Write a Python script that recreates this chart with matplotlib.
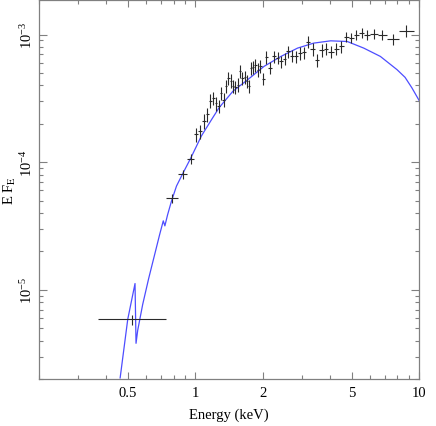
import numpy as np
import matplotlib
matplotlib.use("Agg")
import matplotlib.pyplot as plt
from matplotlib.ticker import FixedLocator, NullFormatter, LogLocator, FixedFormatter

plt.rcParams.update({
    'font.family': 'Liberation Serif',
    'mathtext.fontset': 'stix',
    'font.size': 10.5,
})

# spectral bins (keV): edges of each channel group
bin_edges = [0.3679, 0.7356, 0.8378, 0.9186, 0.9868, 1.0290, 1.0710, 1.1098, 1.1471, 1.1828,
             1.2185, 1.2526, 1.2862, 1.3210, 1.3524, 1.3875, 1.4205, 1.4529, 1.4906, 1.5293,
             1.5671, 1.6010, 1.6409, 1.6835, 1.7184, 1.7539, 1.7957, 1.8349, 1.8766, 1.9231,
             1.9751, 2.0365, 2.1108, 2.2033, 2.2909, 2.3721, 2.4536, 2.5510, 2.6546, 2.7542,
             2.8757, 2.9988, 3.1273, 3.2649, 3.4145, 3.5829, 3.7555, 3.9323, 4.1422, 4.3834,
             4.6132, 4.8449, 5.1098, 5.3790, 5.6783, 6.0562, 6.5400, 7.1845, 8.0910, 9.4345]

# E F_E per bin
flux = [5.87e-6, 5.21e-5, 8.06e-5, 1.065e-4, 1.653e-4, 1.744e-4, 2.099e-4, 2.367e-4, 3.042e-4, 3.182e-4,
        2.884e-4, 2.757e-4, 3.494e-4, 3.097e-4, 3.932e-4, 4.573e-4, 4.356e-4, 3.932e-4, 3.862e-4, 4.055e-4,
        5.147e-4, 4.573e-4, 4.622e-4, 4.302e-4, 3.932e-4, 5.471e-4, 5.531e-4, 5.731e-4, 5.307e-4, 5.629e-4,
        4.516e-4, 6.644e-4, 5.471e-4, 6.740e-4, 6.550e-4, 6.161e-4, 6.433e-4, 7.371e-4, 6.823e-4, 6.740e-4,
        7.161e-4, 7.239e-4, 8.772e-4, 7.695e-4, 6.294e-4, 7.559e-4, 7.765e-4, 7.305e-4, 7.765e-4, 8.062e-4,
        9.544e-4, 9.374e-4, 9.947e-4, 1.0254e-3, 9.947e-4, 1.007e-3, 9.947e-4, 9.207e-4, 1.0744e-3]

# relative 1-sigma errors
flux_relerr = [0.09, 0.08, 0.08, 0.09, 0.13, 0.13, 0.13, 0.13, 0.12, 0.12,
               0.12, 0.12, 0.12, 0.12, 0.12, 0.12, 0.12, 0.12, 0.12, 0.12,
               0.12, 0.12, 0.12, 0.12, 0.12, 0.12, 0.12, 0.12, 0.12, 0.12,
               0.11, 0.11, 0.11, 0.11, 0.11, 0.11, 0.11, 0.11, 0.11, 0.11,
               0.11, 0.11, 0.11, 0.11, 0.11, 0.11, 0.11, 0.11, 0.11, 0.11,
               0.09, 0.09, 0.09, 0.09, 0.09, 0.09, 0.09, 0.10, 0.11]

# folded model curve
model_E = [0.461, 0.4985, 0.5373, 0.5429, 0.5524, 0.5655, 0.5814, 0.5995, 0.6182, 0.6374,
           0.6641, 0.6918, 0.7186, 0.7305, 0.7509, 0.7822, 0.8233, 0.8754, 0.9530, 1.0633,
           1.190, 1.2785, 1.4710, 1.7151, 2.0261, 2.4114, 2.8611, 3.3803, 4.0226, 4.7715,
           5.6546, 6.7077, 7.9602, 8.6500, 9.2817, 10.0]
model_F = [2.04e-6, 5.87e-6, 1.12e-5, 3.81e-6, 4.82e-6, 5.97e-6, 7.68e-6, 9.70e-6, 1.225e-5, 1.519e-5,
           2.024e-5, 2.698e-5, 3.47e-5, 3.17e-5, 3.86e-5, 4.97e-5, 6.50e-5, 8.06e-5, 1.075e-4, 1.603e-4,
           2.203e-4, 2.684e-4, 3.594e-4, 4.435e-4, 5.63e-4, 6.74e-4, 7.83e-4, 8.57e-4, 8.93e-4, 8.82e-4,
           7.83e-4, 6.74e-4, 5.31e-4, 4.62e-4, 3.82e-4, 3.04e-4]

x_major = [0.5, 1, 2, 5, 10]
x_major_labels = ["0.5", "1", "2", "5", "10"]
x_minor = [0.2, 0.3, 0.4, 0.6, 0.7, 0.8, 0.9, 3, 4, 6, 7, 8, 9]

edges = np.array(bin_edges)
lo, hi = edges[:-1], edges[1:]
ctr = np.sqrt(lo * hi)
f = np.array(flux)
ferr = f * np.array(flux_relerr)

fig = plt.figure(figsize=(4.36, 4.27), dpi=100)
ax = fig.add_axes([0.0894, 0.110, 0.872, 0.888])

ax.plot(model_E, model_F, color='#4d4dff', lw=0.9, zorder=2)
ax.errorbar(ctr, f, xerr=[ctr - lo, hi - ctr], yerr=ferr, fmt='none',
            ecolor='#2a2a2a', elinewidth=0.8, capsize=0, zorder=3)

ax.set_xscale('log')
ax.set_yscale('log')
ax.set_xlim(0.2, 10)
ax.set_ylim(2.0e-6, 1.87e-3)

ax.xaxis.set_major_locator(FixedLocator(x_major))
ax.xaxis.set_major_formatter(FixedFormatter(x_major_labels))
ax.xaxis.set_minor_locator(FixedLocator(x_minor))
ax.xaxis.set_minor_formatter(NullFormatter())
ax.yaxis.set_major_locator(LogLocator(base=10))
ax.yaxis.set_minor_locator(LogLocator(base=10, subs=np.arange(2, 10)))
ax.yaxis.set_minor_formatter(NullFormatter())

grey = '#808080'
for s in ax.spines.values():
    s.set_color(grey)
    s.set_linewidth(0.9)
ax.tick_params(which='both', direction='in', top=True, right=True, color=grey, width=0.8)
ax.tick_params(which='major', length=5)
ax.tick_params(which='minor', length=2.8)
ax.tick_params(axis='x', which='major', pad=5)
ax.tick_params(axis='y', which='major', length=6, pad=3)
for lab in ax.get_yticklabels():
    lab.set_rotation(90)
    lab.set_va('center')

ax.set_xlabel('Energy (keV)', labelpad=6)
ax.set_ylabel(r'E F$_{\mathrm{E}}$', labelpad=1)

fig.savefig('out.png', dpi=100)
